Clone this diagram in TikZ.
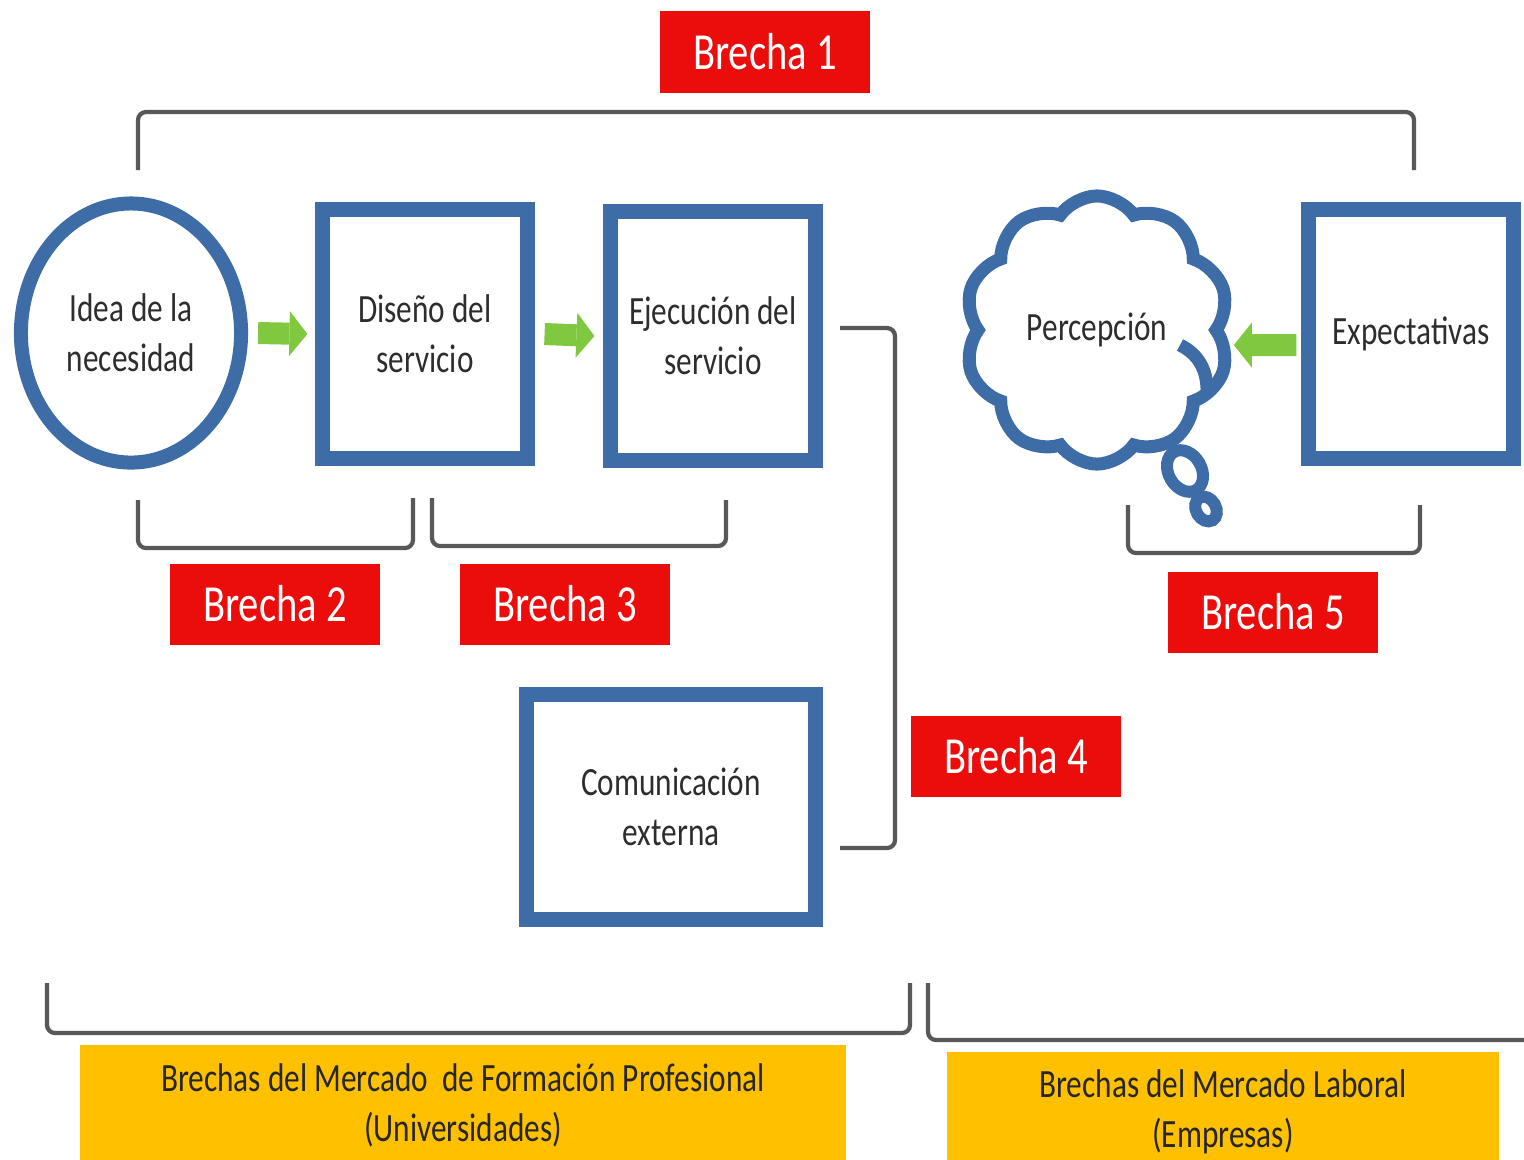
\documentclass[tikz,border=0pt]{standalone}
\usepackage{fontspec}
\setmainfont{Carlito}[FakeStretch=0.78]
\usetikzlibrary{shapes.geometric, shapes.symbols, arrows.meta}
\definecolor{boxblue}{RGB}{62,108,166}
\definecolor{brechared}{RGB}{235,12,12}
\definecolor{arrowgreen}{RGB}{128,200,64}
\definecolor{bracketgray}{RGB}{88,88,88}
\definecolor{mercadoyellow}{RGB}{255,192,0}
\definecolor{textgray}{RGB}{45,45,45}
\tikzstyle{bracket} = [line width=1.2pt,draw=bracketgray,rounded corners=0.08cm]
\tikzstyle{flow} = [line width=0.22cm,draw=arrowgreen,-{Triangle[length=0.18cm 0 0,width=0.45cm 0 0,line width=0pt 0 0]}]

\begin{document}
\begin{tikzpicture}
        [
            x=0.01cm, y=-0.01cm,
            procbox/.style={rectangle,draw=boxblue,line width=0.15cm,minimum width=2.04cm,minimum height=2.48cm,align=center,text=textgray,font=\fontsize{11.4pt}{14.2pt}\selectfont},
            brecha/.style={rectangle,fill=brechared,text=white,minimum width=2.1cm,minimum height=0.81cm,inner sep=0pt,font=\fontsize{14.8pt}{17pt}\selectfont},
            mercado/.style={rectangle,fill=mercadoyellow,text=black!85,align=center,inner sep=0pt,minimum height=1.2cm,font=\fontsize{11.4pt}{14.2pt}\selectfont},
            bubble/.style={ellipse,draw=boxblue,line width=0.12cm,inner sep=0pt,rotate=30},
        ]
    \useasboundingbox (0,0) rectangle (1524,1159);

    \node[ellipse,draw=boxblue,line width=0.14cm,minimum width=2.2cm,minimum height=2.59cm,inner sep=0pt,align=center,text=textgray,font=\fontsize{11.4pt}{14.2pt}\selectfont] (idea) at (131,333) {Idea de la\\necesidad};
    \node[procbox] (diseno) at (425,334) {Diseño del\\servicio};
    \node[procbox] (ejecucion) at (713,336) {Ejecución del\\servicio};
    \node[procbox] (expectativas) at (1411,334) {Expectativas};
    \node[procbox,minimum width=2.89cm,minimum height=2.24cm] (comunicacion) at (671,807) {Comunicación\\externa};

    \node[cloud,draw=boxblue,line width=0.13cm,cloud puffs=10,cloud puff arc=110,aspect=1,minimum width=2.65cm,minimum height=2.68cm,inner sep=0pt,text=textgray,font=\fontsize{11.4pt}{14.2pt}\selectfont] (percepcion) at (1097,330) {Percepción};
    \draw[boxblue,line width=0.13cm] (1180,345) .. controls (1200,355) and (1208,372) .. (1207,395);
    \node[bubble,minimum width=0.33cm,minimum height=0.44cm] (bubbleA) at (1185,471) {};
    \node[bubble,minimum width=0.2cm,minimum height=0.26cm] (bubbleB) at (1206,509) {};

    \draw[flow] ([xshift=0.1cm]idea.east) -- ([xshift=-0.08cm]diseno.west);
    \draw[flow] ([xshift=0.1cm]diseno.east) -- ([xshift=-0.09cm]ejecucion.west);
    \draw[flow] ([xshift=-0.05cm,yshift=-0.11cm]expectativas.west) -- ([xshift=0.1cm,yshift=-0.15cm]percepcion.east);

    \node[brecha] (brecha1) at (765,52) {Brecha 1};
    \node[brecha] (brecha2) at (275,604) {Brecha 2};
    \node[brecha] (brecha3) at (565,604) {Brecha 3};
    \node[brecha] (brecha4) at (1016,756) {Brecha 4};
    \node[brecha] (brecha5) at (1273,612) {Brecha 5};

    \coordinate (b1a) at (138,170);
    \coordinate (b1b) at (1414,170);
    \coordinate (b2a) at (138,500);
    \coordinate (b2b) at (413,498);
    \coordinate (b3a) at (432,498);
    \coordinate (b3b) at (726,500);
    \coordinate (b4a) at (840,328);
    \coordinate (b4b) at (840,848);
    \coordinate (b5a) at (1128,505);
    \coordinate (b5b) at (1420,505);
    \coordinate (b6a) at (47,983);
    \coordinate (b6b) at (910,983);
    \coordinate (b7a) at (928,983);
    \coordinate (b7b) at (1530,1040);

    \draw[bracket] (b1a) -- ++(0,-58) -| (b1b);
    \draw[bracket] (b2a) -- ++(0,48) -| (b2b);
    \draw[bracket] (b3a) -- ++(0,48) -| (b3b);
    \draw[bracket] (b4a) -- ++(55,0) |- (b4b);
    \draw[bracket] (b5a) -- ++(0,48) -| (b5b);
    \draw[bracket] (b6a) -- ++(0,50) -| (b6b);
    \draw[bracket] (b7a) |- (b7b);

    \node[mercado,minimum width=7.66cm] (formacion) at (463,1105) {Brechas del Mercado\ \ de Formación Profesional\\(Universidades)};
    \node[mercado,minimum width=5.51cm] (laboral) at (1223,1112) {Brechas del Mercado Laboral\\(Empresas)};
    \end{tikzpicture}
\end{document}
